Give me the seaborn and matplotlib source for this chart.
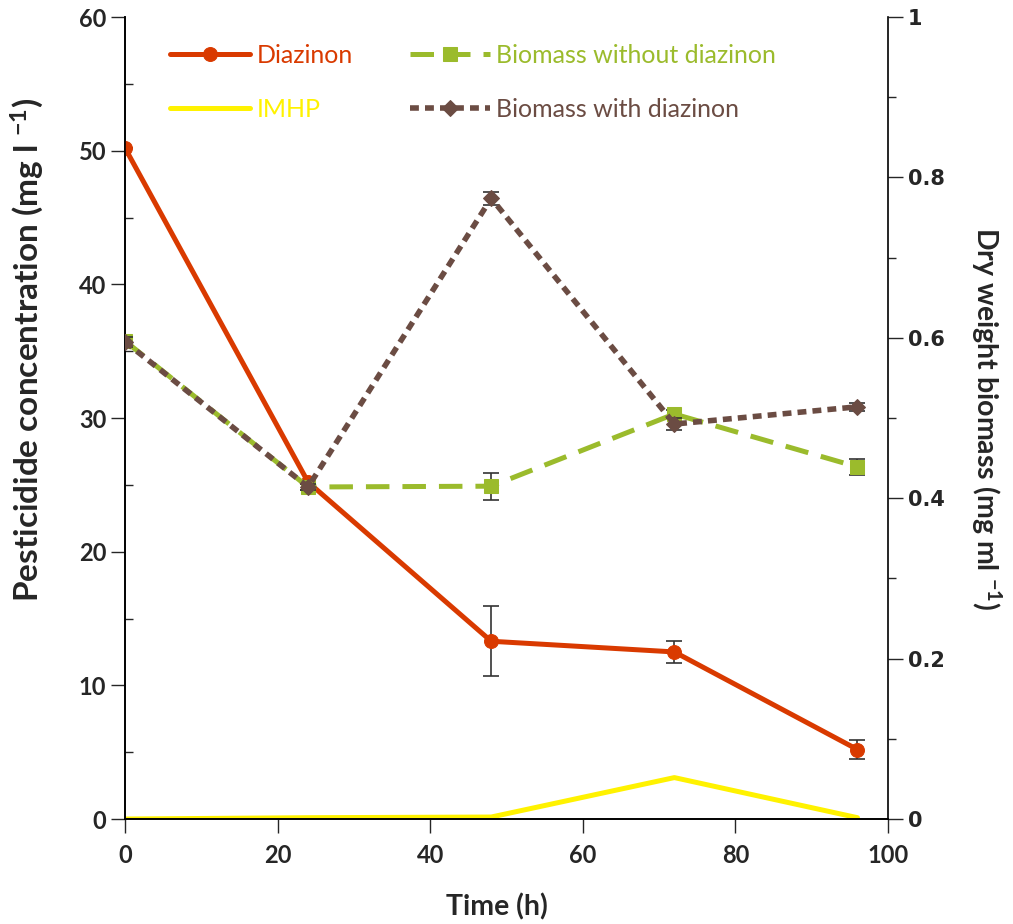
import numpy as np
import pandas as pd
import matplotlib
matplotlib.use("Agg")
import matplotlib.pyplot as plt
import seaborn as sns
from matplotlib.ticker import MultipleLocator

# data
time_h = [0, 24, 48, 72, 96]
diazinon = [50.2, 25.2, 13.3, 12.5, 5.2]
diazinon_err = [0, 0, 2.6, 0.85, 0.7]
imhp = [0.0, 0.1, 0.15, 3.1, 0.1]
biomass_without = [0.596, 0.414, 0.415, 0.505, 0.439]
biomass_without_err = [0.004, 0.004, 0.017, 0.005, 0.01]
biomass_with = [0.595, 0.414, 0.774, 0.4925, 0.514]
biomass_with_err = [0.006, 0.004, 0.008, 0.008, 0.005]

x_ticks = [0, 20, 40, 60, 80, 100]
left_ticks = [0, 10, 20, 30, 40, 50, 60]
right_ticks = [0, 0.2, 0.4, 0.6, 0.8, 1]
right_tick_labels = ["0", "0.2", "0.4", "0.6", "0.8", "1"]

c_diaz = "#D93A00"
c_imhp = "#FFF200"
c_bwo = "#9BBB2C"
c_bw = "#6B4C43"

sns.set_style("ticks")
plt.rcParams["font.family"] = ["Lato", "DejaVu Sans"]
plt.rcParams["mathtext.default"] = "regular"

df = pd.DataFrame({"time": time_h, "diazinon": diazinon, "imhp": imhp,
                   "bwo": biomass_without, "bw": biomass_with})

fig = plt.figure(figsize=(10.13, 9.24), dpi=100)
ax1 = fig.add_subplot(111)
fig.subplots_adjust(left=0.1234, right=0.8766, bottom=0.1136, top=0.9816)
ax2 = ax1.twinx()

# left axis series
sns.lineplot(data=df, x="time", y="imhp", ax=ax1, color=c_imhp, linewidth=3.6,
             label="IMHP", zorder=2)
ax1.errorbar(time_h, diazinon, yerr=diazinon_err, fmt="none", ecolor="#333333",
             elinewidth=1.2, capsize=6, capthick=1.2, zorder=3)
sns.lineplot(data=df, x="time", y="diazinon", ax=ax1, color=c_diaz, linewidth=3.6,
             marker="o", markersize=10, markeredgecolor=c_diaz, label="Diazinon", zorder=4)

# right axis series
ax2.errorbar(time_h, biomass_without, yerr=biomass_without_err, fmt="none",
             ecolor="#333333", elinewidth=1.2, capsize=6, capthick=1.2, zorder=2)
sns.lineplot(data=df, x="time", y="bwo", ax=ax2, color=c_bwo, linewidth=3.6,
             linestyle=(0, (4.7, 2.6)), marker="s", markersize=10,
             markeredgecolor=c_bwo, label="Biomass without diazinon", zorder=3)
ax2.errorbar(time_h, biomass_with, yerr=biomass_with_err, fmt="none",
             ecolor="#333333", elinewidth=1.2, capsize=6, capthick=1.2, zorder=4)
sns.lineplot(data=df, x="time", y="bw", ax=ax2, color=c_bw, linewidth=4.0,
             linestyle=(0, (1.6, 1.1)), marker="D", markersize=8,
             markeredgecolor=c_bw, label="Biomass with diazinon", zorder=5)

for a in (ax1, ax2):
    if a.get_legend() is not None:
        a.get_legend().remove()

# axes limits and ticks
ax1.set_xlim(0, 100)
ax1.set_ylim(0, 60)
ax2.set_ylim(0, 1)
ax1.set_xticks(x_ticks, [str(v) for v in x_ticks], fontweight="bold", fontsize=17)
ax1.set_yticks(left_ticks, [str(v) for v in left_ticks], fontweight="bold", fontsize=17)
ax1.yaxis.set_minor_locator(MultipleLocator(5))
ax2.set_yticks(right_ticks, right_tick_labels, fontweight="bold", fontsize=15,
               family="DejaVu Sans")
ax2.yaxis.set_minor_locator(MultipleLocator(0.1))

ax1.tick_params(axis="x", direction="out", length=10, width=1, pad=8)
ax1.tick_params(axis="y", which="major", direction="out", length=10, width=1)
ax1.tick_params(axis="y", which="minor", direction="in", length=6, width=1)
ax2.tick_params(axis="y", which="major", direction="out", length=11, width=1)
ax2.tick_params(axis="y", which="minor", direction="out", length=6, width=1)

for a in (ax1, ax2):
    a.spines["top"].set_visible(False)
    for s in ("left", "right", "bottom"):
        a.spines[s].set_color("black")
        a.spines[s].set_linewidth(1.2)
ax1.spines["right"].set_visible(False)

ax1.set_xlabel("Time (h)", fontsize=20.5, fontweight="bold")
ax1.xaxis.set_label_coords(0.4875, -0.092)
ax1.set_ylabel("Pesticidide concentration (mg l $^{-1}$)", fontsize=24,
               fontweight="bold")
ax1.yaxis.set_label_coords(-0.104, 0.585)
ax2.set_ylabel("Dry weight biomass (mg ml $^{-1}$)", fontsize=20.5,
               fontweight="bold", rotation=270, labelpad=42)

# legend in two columns
h1, l1 = ax1.get_legend_handles_labels()
h2, l2 = ax2.get_legend_handles_labels()
hmap = dict(zip(l1 + l2, h1 + h2))
order = ["Diazinon", "IMHP", "Biomass without diazinon", "Biomass with diazinon"]
leg = ax2.legend([hmap[k] for k in order], order, ncol=2, loc="upper left",
                 bbox_to_anchor=(0.168, 0.9525), bbox_transform=fig.transFigure,
                 frameon=False, fontsize=18, handlelength=3.2, handletextpad=0.25,
                 labelspacing=1.25, columnspacing=2.3, borderpad=0, borderaxespad=0,
                 labelcolor="linecolor")

fig.savefig("out.png", dpi=100)
